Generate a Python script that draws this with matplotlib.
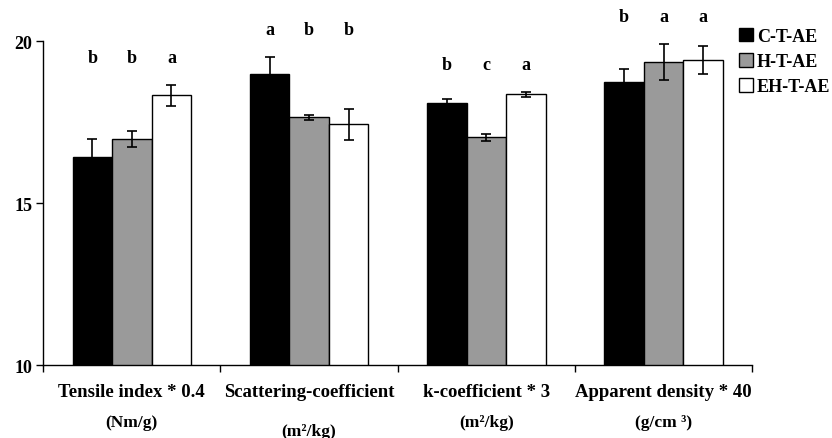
import matplotlib
matplotlib.use('Agg')
import matplotlib.pyplot as plt
import numpy as np

plt.rcParams['font.family'] = ['Liberation Serif', 'DejaVu Serif']
plt.rcParams['font.weight'] = 'bold'

categories = ['Tensile index * 0.4', 'Scattering-coefficient', 'k-coefficient * 3', 'Apparent density * 40']
units = ['(Nm/g)', '(m²/kg)', '(m²/kg)', '(g/cm ³)']
series = ['C-T-AE', 'H-T-AE', 'EH-T-AE']
colors = ['#000000', '#9a9a9a', '#ffffff']

values = [
    [16.42, 18.98, 18.09, 18.74],   # C-T-AE
    [16.97, 17.65, 17.03, 19.35],   # H-T-AE
    [18.33, 17.43, 18.36, 19.42],   # EH-T-AE
]
errors = [
    [0.55, 0.52, 0.11, 0.39],
    [0.25, 0.07, 0.11, 0.55],
    [0.33, 0.48, 0.08, 0.44],
]
letters = [
    ['b', 'a', 'b', 'b'],
    ['b', 'b', 'c', 'a'],
    ['a', 'b', 'a', 'a'],
]

fig = plt.figure(figsize=(8.32, 4.39), dpi=100)
ax = fig.add_axes([0.052, 0.166, 0.852, 0.738])

x = np.arange(len(categories))
w = 0.223
for i, s in enumerate(series):
    pos = x + (i - 1) * w
    ax.bar(pos, values[i], w, bottom=0, color=colors[i], edgecolor='black',
           linewidth=1.0, label=s, zorder=2)
    ax.errorbar(pos, values[i], yerr=errors[i], fmt='none', ecolor='black',
                elinewidth=1.2, capsize=3.6, capthick=1.2, zorder=3)

# significance letters above each group
for j in range(len(categories)):
    top = max(values[i][j] + errors[i][j] for i in range(len(series)))
    for i in range(len(series)):
        ax.text(x[j] + (i - 1) * w, top + 0.85, letters[i][j], ha='center',
                va='center', fontsize=13, fontweight='bold', clip_on=False)

ax.set_ylim(10, 20)
ax.set_xlim(-0.5, len(categories) - 0.5)
ax.set_yticks([10, 15, 20])
ax.set_yticklabels(['10', '15', '20'], fontsize=13, fontweight='bold')
ax.set_xticks(np.arange(len(categories) + 1) - 0.5)
ax.set_xticklabels([])
ax.tick_params(direction='out', length=5, width=1, colors='black', pad=3)
for sp in ['top', 'right']:
    ax.spines[sp].set_visible(False)
for sp in ['left', 'bottom']:
    ax.spines[sp].set_linewidth(1)

tr = ax.get_xaxis_transform()
for j, c in enumerate(categories):
    ax.text(x[j], -0.08, c, transform=tr, ha='center', va='center', fontsize=13.5, fontweight='bold')
    y2 = -0.204 if j == 1 else -0.176
    ax.text(x[j], y2, units[j], transform=tr, ha='center', va='center', fontsize=12.5, fontweight='bold')

ax.legend(loc='upper left', bbox_to_anchor=(0.888, 0.935), bbox_transform=fig.transFigure,
          frameon=False, handlelength=0.8, handleheight=0.8,
          handletextpad=0.2, labelspacing=0.45, borderpad=0, borderaxespad=0,
          prop={'weight': 'bold', 'size': 13})

fig.savefig('out.png', dpi=100)
